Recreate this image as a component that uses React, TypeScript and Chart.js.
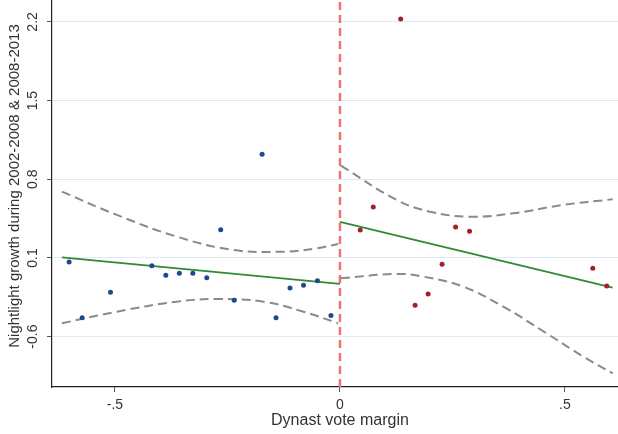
import React, { useEffect, useRef } from "react";
import { Chart, registerables } from "chart.js";
Chart.register(...registerables);

// ---- data ----
const blueX = [-0.602, -0.573, -0.510, -0.418, -0.387, -0.357, -0.327, -0.296, -0.265, -0.235, -0.173, -0.142, -0.111, -0.081, -0.050, -0.020];
const blueY = [0.064, -0.431, -0.205, 0.031, -0.054, -0.036, -0.036, -0.075, 0.352, -0.276, 1.022, -0.431, -0.167, -0.143, -0.102, -0.413];

const redX = [0.045, 0.074, 0.135, 0.167, 0.196, 0.227, 0.257, 0.288, 0.562, 0.593];
const redY = [0.349, 0.554, 2.226, -0.321, -0.220, 0.044, 0.376, 0.337, 0.008, -0.149];

const leftFitX = [-0.618, 0];
const leftFitY = [0.106, -0.131];
const rightFitX = [0, 0.606];
const rightFitY = [0.420, -0.164];

const leftUpperX = [-0.618, -0.496, -0.363, -0.237, -0.126, -0.052, -0.004];
const leftUpperY = [0.690, 0.483, 0.290, 0.171, 0.156, 0.186, 0.225];
const leftLowerX = [-0.618, -0.496, -0.363, -0.274, -0.170, -0.081, -0.004];
const leftLowerY = [-0.481, -0.378, -0.289, -0.265, -0.289, -0.378, -0.481];

const rightUpperX = [0.002, 0.126, 0.200, 0.289, 0.385, 0.496, 0.606];
const rightUpperY = [0.921, 0.616, 0.512, 0.467, 0.497, 0.572, 0.622];
const rightLowerX = [0.002, 0.126, 0.185, 0.274, 0.363, 0.459, 0.541, 0.606];
const rightLowerY = [-0.081, -0.042, -0.066, -0.155, -0.333, -0.570, -0.778, -0.926];

const xTicks = [-0.5, 0, 0.5];
const xTickLabels = ["-.5", "0", ".5"];
const yTicks = [-0.6, 0.1, 0.8, 1.5, 2.2];
const yTickLabels = ["-0.6", "0.1", "0.8", "1.5", "2.2"];

const xTitle = "Dynast vote margin";
const yTitle = "Nightlight growth during 2002-2008 & 2008-2013";

const X_MIN = -0.64;
const X_MAX = 0.618;
const Y_MIN = -1.048;
const Y_MAX = 2.395;

const cutoffX = [0, 0];
const cutoffY = [Y_MIN, Y_MAX];

const pts = (xs: number[], ys: number[]) => xs.map((x, i) => ({ x, y: ys[i] }));

const FONT = '"Liberation Sans", Arial, sans-serif';

const textPlugin = {
  id: "stataText",
  afterDraw(chart: any) {
    const ctx = chart.ctx;
    const ys = chart.scales.y;
    ctx.save();
    ctx.fillStyle = "#333333";
    ctx.textAlign = "center";
    ctx.textBaseline = "middle";
    ctx.font = `14px ${FONT}`;
    yTicks.forEach((v, i) => {
      const py = ys.getPixelForValue(v);
      ctx.save();
      ctx.translate(33, py);
      ctx.rotate(-Math.PI / 2);
      ctx.fillText(yTickLabels[i], 0, 0);
      ctx.restore();
    });
    ctx.font = `15px ${FONT}`;
    ctx.save();
    ctx.translate(15, 186);
    ctx.rotate(-Math.PI / 2);
    ctx.fillText(yTitle, 0, 0);
    ctx.restore();
    const xs = chart.scales.x;
    ctx.font = `16px ${FONT}`;
    ctx.fillText(xTitle, xs.getPixelForValue(0), 421);
    ctx.restore();
  },
};

export default function App() {
  const ref = useRef<HTMLCanvasElement | null>(null);
  useEffect(() => {
    if (!ref.current) return;
    const dashGray = {
      type: "line" as const,
      borderColor: "#8a8a8a",
      borderWidth: 2,
      borderDash: [9, 5],
      pointRadius: 0,
      tension: 0.4,
      showLine: true,
      fill: false,
    };
    const green = {
      type: "line" as const,
      borderColor: "#2f8a34",
      borderWidth: 1.8,
      pointRadius: 0,
      showLine: true,
      fill: false,
    };
    const chart = new Chart(ref.current, {
      type: "scatter",
      data: {
        datasets: [
          { label: "blue", data: pts(blueX, blueY), backgroundColor: "#1d4b8a", borderColor: "#1d4b8a", pointRadius: 2.5, pointBorderWidth: 0 },
          { label: "red", data: pts(redX, redY), backgroundColor: "#a3202a", borderColor: "#a3202a", pointRadius: 2.5, pointBorderWidth: 0 },
          { label: "fitL", data: pts(leftFitX, leftFitY), ...green },
          { label: "fitR", data: pts(rightFitX, rightFitY), ...green },
          { label: "luL", data: pts(leftUpperX, leftUpperY), ...dashGray },
          { label: "llL", data: pts(leftLowerX, leftLowerY), ...dashGray },
          { label: "luR", data: pts(rightUpperX, rightUpperY), ...dashGray },
          { label: "llR", data: pts(rightLowerX, rightLowerY), ...dashGray },
          { label: "cut", data: pts(cutoffX, cutoffY), type: "line", borderColor: "#f07272", borderWidth: 2.5, borderDash: [8, 5], pointRadius: 0, showLine: true, fill: false },
        ] as any,
      },
      options: {
        animation: false,
        responsive: false,
        maintainAspectRatio: false,
        layout: { padding: 0, autoPadding: false },
        plugins: { legend: { display: false }, tooltip: { enabled: false }, title: { display: false } },
        scales: {
          x: {
            type: "linear",
            min: X_MIN,
            max: X_MAX,
            afterBuildTicks: (s: any) => { s.ticks = xTicks.map((v) => ({ value: v })); },
            afterFit: (s: any) => { s.height = 47; },
            ticks: {
              color: "#333333",
              font: { family: FONT, size: 14 },
              padding: 5,
              maxRotation: 0,
              callback: (v: any) => { const i = xTicks.indexOf(Number(v)); return i >= 0 ? xTickLabels[i] : ""; },
            },
            grid: { display: true, drawOnChartArea: false, drawTicks: true, tickLength: 5, tickColor: "#555555" },
            border: { display: true, color: "#222222", width: 1.2 },
          },
          y: {
            type: "linear",
            min: Y_MIN,
            max: Y_MAX,
            afterBuildTicks: (s: any) => { s.ticks = yTicks.map((v) => ({ value: v })); },
            afterFit: (s: any) => { s.width = 52; },
            ticks: { display: false },
            grid: { display: true, color: "#dcebf1", lineWidth: 1, drawTicks: true, tickLength: 5, tickColor: "#555555" },
            border: { display: true, color: "#222222", width: 1.2 },
          },
        },
      },
      plugins: [textPlugin],
    });
    return () => chart.destroy();
  }, []);
  return (
    <div style={{ position: "absolute", left: 0, top: 0, width: 618, height: 434, background: "#ffffff" }}>
      <canvas ref={ref} width={618} height={434} style={{ display: "block" }} />
    </div>
  );
}
